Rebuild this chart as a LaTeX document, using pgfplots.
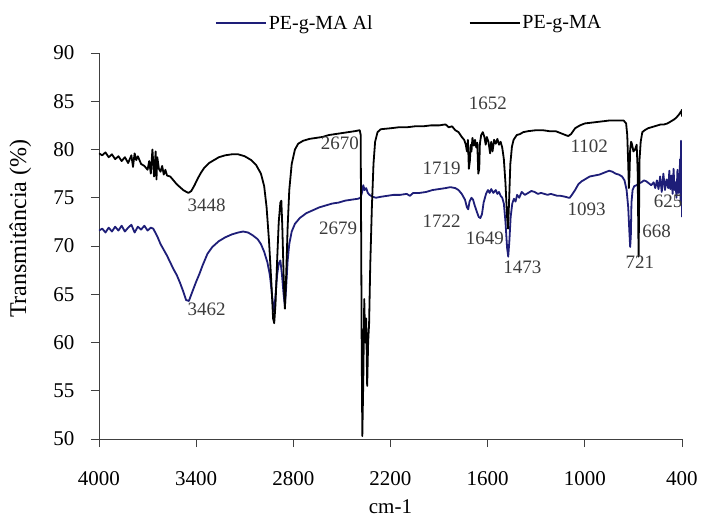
\documentclass[border=0pt]{standalone}
\usepackage{fontspec}
\setmainfont{Liberation Serif}
\usepackage{pgfplots}
\pgfplotsset{compat=1.18}
\definecolor{alblue}{RGB}{30,30,120}
\definecolor{peakgray}{RGB}{60,60,60}

\begin{document}
\begin{tikzpicture}
\useasboundingbox (-99pt,-80pt) rectangle (602pt,439pt);
\begin{axis}[
    at={(0,0)}, anchor=south west,
    scale only axis, width=583pt, height=386pt,
    xmin=400, xmax=4000, x dir=reverse,
    ymin=50, ymax=90,
    xtick={400,1000,...,4000},
    ytick={50,55,...,90},
    axis x line*=bottom, axis y line*=left,
    axis line style={black!75, line width=0.8pt},
    tick style={black!75, line width=0.8pt},
    tick align=outside, major tick length=8pt,
    /pgf/number format/1000 sep={},
    /pgf/number format/assume math mode=true,
    tick label style={font=\fontsize{21}{24}\selectfont},
    x tick label style={yshift=-21pt},
    y tick label style={xshift=-13pt},
    xlabel={cm-1}, ylabel={Transmitância (\%)},
    xlabel style={font=\fontsize{21}{24}\selectfont, at={(axis description cs:0.5,0)}, anchor=center, yshift=-68pt},
    ylabel style={font=\fontsize{24}{28}\selectfont, at={(axis description cs:-0.135,0.545)}, anchor=center},
    legend columns=2,
    legend style={at={(axis description cs:0.532,1.078)}, anchor=center,
        draw=none, fill=none, font=\fontsize{20}{24}\selectfont,
        /tikz/every even column/.append style={column sep=94pt}},
    legend image code/.code={\draw[#1] (0pt,0pt) -- (50pt,0pt);},
    every axis plot/.append style={line width=1.8pt, line join=round},
]
\addplot[alblue] coordinates {
(4000,71.6) (3980,71.8) (3960,71.4) (3940,71.9) (3920,71.5) (3900,72.0) (3880,71.6)
(3860,72.1) (3840,71.5) (3820,71.9) (3800,72.2) (3780,71.4) (3760,72.0) (3740,71.7)
(3720,72.1) (3700,71.6) (3680,71.9) (3665,71.8) (3640,71.0) (3620,70.2) (3600,69.6)
(3580,69.0) (3560,68.3) (3540,67.6) (3520,67.0) (3500,66.2) (3480,65.3) (3462,64.4)
(3445,64.3) (3425,65.2) (3400,66.3) (3380,67.1) (3360,68.0) (3330,69.2) (3300,69.9)
(3260,70.5) (3220,70.9) (3180,71.2) (3140,71.4) (3110,71.5) (3080,71.4) (3050,71.1)
(3020,70.7) (3000,70.2) (2980,69.4) (2960,68.3) (2945,67.0) (2935,65.5) (2925,63.8)
(2920,63.2) (2912,64.5) (2900,67.0) (2890,68.2) (2880,68.5) (2870,67.0) (2860,65.0)
(2852,63.8) (2845,65.5) (2835,68.5) (2825,70.2) (2810,71.5) (2790,72.3) (2760,72.9)
(2720,73.4) (2680,73.7) (2640,74.0) (2600,74.2) (2560,74.4) (2520,74.5) (2480,74.7)
(2440,74.8) (2400,74.9) (2385,75.0) (2375,75.6) (2368,76.3) (2360,75.8) (2350,76.0)
(2340,75.5) (2330,75.3) (2310,75.1) (2290,75.0) (2260,75.1) (2220,75.2) (2180,75.3)
(2140,75.3) (2100,75.4) (2080,75.2) (2060,75.5) (2020,75.5) (1980,75.6) (1940,75.8)
(1900,75.9) (1860,76.0) (1830,76.1) (1800,76.0) (1780,75.8) (1760,75.4) (1740,74.8)
(1728,74.0) (1720,73.8) (1712,74.6) (1700,75.0) (1690,74.8) (1680,74.2) (1668,73.6)
(1655,73.0) (1645,72.9) (1635,73.3) (1625,74.5) (1610,75.4) (1598,75.8) (1588,75.5)
(1578,75.9) (1565,75.5) (1550,75.8) (1540,75.4) (1530,75.6) (1520,75.2) (1510,75.0)
(1500,74.4) (1490,72.5) (1480,69.8) (1473,68.9) (1466,70.5) (1458,73.0) (1448,74.4)
(1438,74.9) (1428,74.6) (1418,75.3) (1405,75.0) (1390,75.6) (1370,75.3) (1350,75.5)
(1330,75.7) (1310,75.6) (1290,75.4) (1270,75.5) (1250,75.4) (1230,75.3) (1210,75.4)
(1190,75.3) (1170,75.2) (1150,75.2) (1120,75.1) (1100,75.0) (1093,75.0) (1080,75.3)
(1060,75.8) (1040,76.4) (1020,76.7) (1000,76.9) (970,77.2) (940,77.3) (910,77.4)
(880,77.6) (850,77.8) (830,77.7) (810,77.5) (790,77.4) (770,77.2) (755,76.8)
(742,75.8) (732,74.0) (725,71.5) (720,69.9) (716,71.0) (712,74.5) (705,75.8)
(695,76.2) (680,76.3) (665,76.5) (650,76.6) (635,76.8) (620,76.7) (605,76.5)
(590,76.3) (575,76.6) (565,76.0) (555,76.8) (545,75.9) (535,77.2) (525,75.6)
(515,77.5) (505,75.8) (495,76.9) (485,76.0) (478,77.8) (472,75.9) (465,77.3)
(458,75.4) (452,78.0) (446,75.8) (440,76.6) (434,75.0) (428,77.9) (422,75.5)
(416,76.2) (412,79.0) (409,74.5) (406,80.9) (404,75.2) (402,80.0) (400,73.0)
};
\addlegendentry{PE-g-MA Al}
\addplot[black] coordinates {
(4000,79.6) (3980,79.4) (3960,79.7) (3940,79.2) (3920,79.5) (3900,79.0) (3880,79.3)
(3860,78.8) (3840,79.2) (3820,78.6) (3800,79.4) (3790,78.2) (3780,79.6) (3770,78.9)
(3760,79.3) (3740,78.5) (3720,78.3) (3700,77.9) (3690,78.8) (3680,77.5) (3670,80.0)
(3660,77.2) (3650,79.8) (3645,76.9) (3640,79.2) (3630,78.0) (3620,77.7) (3610,78.3)
(3600,77.4) (3590,77.9) (3580,77.3) (3560,77.2) (3540,76.8) (3520,76.4) (3500,76.1)
(3480,75.8) (3460,75.6) (3448,75.5) (3430,75.7) (3410,76.3) (3390,77.0) (3370,77.6)
(3350,78.1) (3320,78.6) (3290,78.9) (3260,79.2) (3220,79.4) (3180,79.5) (3140,79.5)
(3100,79.3) (3060,78.9) (3030,78.4) (3000,77.5) (2980,76.2) (2965,74.0) (2950,70.5)
(2935,66.0) (2925,62.5) (2918,62.0) (2910,64.0) (2900,68.5) (2890,72.5) (2880,74.5)
(2874,74.7) (2868,72.0) (2860,67.0) (2852,63.5) (2845,66.5) (2835,72.0) (2825,75.8)
(2810,78.5) (2790,80.0) (2770,80.6) (2740,80.9) (2700,81.1) (2660,81.2) (2620,81.3)
(2580,81.5) (2540,81.6) (2500,81.7) (2460,81.8) (2420,81.9) (2390,82.0) (2384,81.5)
(2378,60.0) (2374,50.3) (2368,56.0) (2362,64.5) (2356,60.0) (2350,62.5) (2344,55.5)
(2338,60.0) (2332,62.0) (2325,68.0) (2315,74.0) (2305,78.5) (2295,80.8) (2280,81.8)
(2260,82.1) (2200,82.2) (2150,82.3) (2100,82.3) (2050,82.4) (2000,82.4) (1950,82.5)
(1900,82.5) (1860,82.6) (1840,82.3) (1820,82.4) (1800,82.0) (1780,81.8) (1760,81.3)
(1745,81.0) (1735,80.5) (1728,79.8) (1722,81.0) (1716,78.0) (1710,78.8) (1704,80.5)
(1700,79.8) (1694,81.2) (1685,80.4) (1678,81.0) (1670,80.2) (1664,80.7) (1658,77.5)
(1652,78.0) (1648,80.6) (1640,81.5) (1630,81.8) (1620,81.3) (1612,80.5) (1605,81.3)
(1595,80.8) (1585,79.6) (1578,80.8) (1570,79.8) (1560,81.0) (1550,80.6) (1540,81.1)
(1530,80.5) (1520,80.8) (1510,80.2) (1500,79.0) (1490,76.5) (1480,73.0) (1474,71.8)
(1468,74.5) (1460,78.5) (1450,80.3) (1440,81.0) (1420,81.5) (1400,81.6) (1380,81.8)
(1350,81.9) (1300,82.0) (1260,82.0) (1220,81.9) (1180,81.9) (1150,81.7) (1120,81.5)
(1102,81.4) (1085,81.6) (1060,82.2) (1030,82.5) (1000,82.7) (950,82.8) (900,82.9)
(850,83.0) (800,83.0) (760,83.0) (745,82.7) (738,81.5) (732,78.5) (728,76.0)
(724,77.5) (720,80.0) (714,80.8) (708,80.5) (700,79.8) (690,80.0) (680,80.5)
(674,78.0) (670,72.0) (668,68.9) (666,72.0) (662,79.0) (655,80.8) (645,81.8)
(630,82.0) (610,82.2) (590,82.3) (570,82.4) (550,82.5) (530,82.6) (510,82.6)
(490,82.7) (470,82.9) (450,83.1) (435,83.3) (425,83.5) (415,83.7) (408,83.9)
(404,83.8) (402,84.1) (400,83.4)
};
\addlegendentry{PE-g-MA}
\begin{scope}[every node/.style={font=\fontsize{19}{22}\selectfont, text=peakgray, inner sep=0pt}]
\node at (axis cs:3335,74.2) {3448};
\node at (axis cs:3335,63.4) {3462};
\node at (axis cs:2512,80.6) {2670};
\node at (axis cs:2523,71.8) {2679};
\node at (axis cs:1885,78.0) {1719};
\node at (axis cs:1885,72.6) {1722};
\node at (axis cs:1617,70.8) {1649};
\node at (axis cs:1386,67.8) {1473};
\node at (axis cs:1599,84.8) {1652};
\node at (axis cs:973,80.3) {1102};
\node at (axis cs:989,73.8) {1093};
\node at (axis cs:660,68.35) {721};
\node at (axis cs:557,71.5) {668};
\node at (axis cs:486,74.6) {625};
\end{scope}
\end{axis}
\end{tikzpicture}
\end{document}
